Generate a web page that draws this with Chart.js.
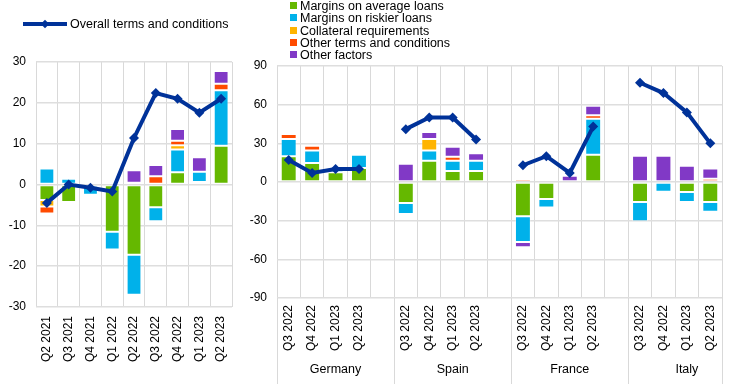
<!DOCTYPE html>
<html>
<head>
<meta charset="utf-8">
<script src="https://cdn.jsdelivr.net/npm/chart.js@4.4.0/dist/chart.umd.min.js"></script>
<style>
  body { margin: 0; width: 738px; height: 384px; overflow: hidden; background: #fff; font-family: "Liberation Sans", Arial, sans-serif; }
  .box { position: absolute; top: 0; height: 384px; }
  #left-box { left: 0; width: 245px; }
  #right-box { left: 245px; width: 493px; }
  .legend { position: absolute; font-size: 12.5px; color: #000; line-height: 12px; white-space: nowrap; }
  .legend .row { position: relative; height: 12.3px; padding-left: 10px; }
  .legend .sq { position: absolute; left: 0; top: 2px; width: 7px; height: 7px; }
  #legend-left { left: 23px; top: 18px; padding-left: 47px; }
  #legend-left .ln { position: absolute; left: 0; top: 4px; width: 44px; height: 4px; }
  #legend-left .dm { position: absolute; left: 19px; top: 3px; width: 6px; height: 6px; transform: rotate(45deg); }
  #legend-right { left: 290px; top: 0px; }
</style>
</head>
<body>
<div class="box" id="left-box"><canvas id="left"></canvas></div>
<div class="box" id="right-box"><canvas id="right"></canvas></div>
<div class="legend" id="legend-left"></div>
<div class="legend" id="legend-right"></div>
<script>
const SERIES = ['Margins on average loans', 'Margins on riskier loans', 'Collateral requirements', 'Other terms and conditions', 'Other factors'];
const LINE_LABEL = 'Overall terms and conditions';
const COLORS = ['#65b800', '#00b1ea', '#ffb400', '#ff4b00', '#8139c6'];
const LINE_COLOR = '#003299';

// euro area panel
const leftQuarters = ['Q2 2021', 'Q3 2021', 'Q4 2021', 'Q1 2022', 'Q2 2022', 'Q3 2022', 'Q4 2022', 'Q1 2023', 'Q2 2023'];
const leftAverage = [-3.8, -4.3, -0.3, -11.6, -17.2, -5.6, 3.0, 0.6, 9.5];
const leftRiskier = [3.9, 1.4, -2.2, -4.3, -9.8, -3.4, 5.6, 2.5, 13.6];
const leftCollateral = [-1.6, 0.3, 0, 0, 0, 0, 1.0, 0, 0];
const leftOtherTerms = [-1.7, -0.4, -0.2, -0.3, 0.4, 2.0, 1.1, 0, 1.6];
const leftOtherFactors = [0.2, 0, 0.5, 0, 3.1, 2.8, 2.9, 3.6, 3.1];
const leftOverall = [-4.5, 0, -0.8, -1.7, 11.4, 22.4, 21, 17.6, 21];
const leftTicks = [-30, -20, -10, 0, 10, 20, 30];

// country panel
const COUNTRIES = ['Germany', 'Spain', 'France', 'Italy'];
const rightQuarters = ['Q3 2022', 'Q4 2022', 'Q1 2023', 'Q2 2023'];
const rightAverage = [[19.9, 14.7, 7.5, 10.9], [-16.3, 16.5, 8.5, 8.5], [-26.6, -13.2, 0, 21.2], [-15.5, 0, -7.8, -15.5]];
const rightRiskier = [[13.4, 9.8, 2.6, 10.3], [-8.5, 8.0, 8.0, 8.0], [-19.9, -6.5, 0, 27.9], [-15.0, -7.5, -7.8, -7.5]];
const rightCollateral = [[0, 0, 0, 0], [0, 8.8, 0, 0], [0, 0, 0, 0], [0, 0, 0, 0]];
const rightOtherTerms = [[3.9, 3.6, 0, 1.3], [0, 0, 3.1, 0], [2.3, 0, 0, 2.6], [0, 0, 0, 2.6]];
const rightOtherFactors = [[0, 0, 0, 0], [14.2, 5.4, 7.8, 5.9], [-4.1, 0, 4.9, 7.5], [20.4, 20.4, 12.7, 7.8]];
const rightOverall = [[17, 7, 10, 10], [41, 50, 50, 33], [13, 20, 7, 43], [77, 69, 54, 30]];
const rightTicks = [-90, -60, -30, 0, 30, 60, 90];

Chart.defaults.font.family = '"Liberation Sans", Arial, sans-serif';
Chart.defaults.color = '#000';

// one empty category after each country except the last
function spread(groups, gap) {
  return groups.flatMap((g, i) => (i < groups.length - 1 ? [...g, gap] : g));
}

function datasets(parts, overall) {
  const bars = parts.map((data, i) => ({
    type: 'bar',
    label: SERIES[i],
    data,
    backgroundColor: COLORS[i],
    borderColor: 'rgba(255,255,255,0.3)',
    borderWidth: 1,
    borderSkipped: false,
    stack: 'parts',
    order: 1,
    barPercentage: 0.68,
    categoryPercentage: 1,
  }));
  bars.push({
    type: 'line',
    label: LINE_LABEL,
    data: overall,
    borderColor: LINE_COLOR,
    backgroundColor: LINE_COLOR,
    borderWidth: 4,
    pointStyle: 'rectRot',
    pointRadius: 5,
    pointBorderWidth: 0,
    pointBackgroundColor: LINE_COLOR,
    stack: 'overall',
    order: 0,
    spanGaps: false,
  });
  return bars;
}

function options(ticks, padTop, xHeight, xPad, yWidth) {
  return {
    responsive: true,
    maintainAspectRatio: false,
    animation: false,
    layout: { padding: { top: padTop, right: 0, left: 0, bottom: 0 } },
    plugins: { legend: { display: false }, tooltip: { enabled: false } },
    scales: {
      x: {
        stacked: true,
        offset: true,
        grid: { color: '#d9d9d9', lineWidth: 1, drawTicks: false, offset: true },
        border: { display: false },
        ticks: { autoSkip: false, minRotation: 90, maxRotation: 90, padding: xPad, font: { size: 12 } },
        afterFit: (s) => { s.height = xHeight; },
      },
      y: {
        stacked: true,
        min: ticks[0],
        max: ticks[ticks.length - 1],
        afterBuildTicks: (s) => { s.ticks = ticks.map((v) => ({ value: v })); },
        grid: { color: '#dedede', lineWidth: 1.5, drawTicks: false },
        border: { display: false },
        ticks: { padding: 10, font: { size: 12 } },
        afterFit: (s) => { s.width = yWidth; },
      },
    },
  };
}

const groupPlugin = {
  id: 'groups',
  afterDraw(chart) {
    const { ctx, chartArea } = chart;
    const x = chart.scales.x;
    const w = x.width / x.ticks.length;
    const step = rightQuarters.length + 1;
    ctx.save();
    ctx.strokeStyle = '#d9d9d9';
    ctx.lineWidth = 1;
    ctx.fillStyle = '#000';
    ctx.font = '12.5px "Liberation Sans", Arial, sans-serif';
    ctx.textAlign = 'center';
    ctx.textBaseline = 'middle';
    const edges = COUNTRIES.map((c, g) => x.getPixelForValue(g * step) - w / 2);
    edges.push(chartArea.right);
    edges.forEach((px) => {
      ctx.beginPath();
      ctx.moveTo(Math.round(px) + 0.5, chartArea.bottom);
      ctx.lineTo(Math.round(px) + 0.5, chart.height);
      ctx.stroke();
    });
    COUNTRIES.forEach((c, g) => {
      const cx = edges[g] + (w * step) / 2;
      ctx.fillText(c, cx, chartArea.bottom + 72);
    });
    ctx.restore();
  },
};

new Chart(document.getElementById('left'), {
  data: {
    labels: leftQuarters,
    datasets: datasets([leftAverage, leftRiskier, leftCollateral, leftOtherTerms, leftOtherFactors], leftOverall),
  },
  options: (() => {
    const o = options(leftTicks, 62, 77, 9, 36);
    o.layout.padding.right = 8;
    return o;
  })(),
});

const rightLabels = spread(COUNTRIES.map(() => [...rightQuarters]), '');
new Chart(document.getElementById('right'), {
  data: {
    labels: rightLabels,
    datasets: datasets(
      [rightAverage, rightRiskier, rightCollateral, rightOtherTerms, rightOtherFactors].map((s) => spread(s, null)),
      spread(rightOverall, null)
    ),
  },
  options: (() => {
    const o = options(rightTicks, 66, 86, 7, 32);
    o.layout.padding.right = 16;
    return o;
  })(),
  plugins: [groupPlugin],
});

// legends
const ll = document.getElementById('legend-left');
ll.innerHTML = `<span class="ln" style="background:${LINE_COLOR}"></span><span class="dm" style="background:${LINE_COLOR}"></span>${LINE_LABEL}`;
const lr = document.getElementById('legend-right');
lr.innerHTML = SERIES.map(
  (s, i) => `<div class="row"><span class="sq" style="background:${COLORS[i]}"></span>${s}</div>`
).join('');
</script>
</body>
</html>
